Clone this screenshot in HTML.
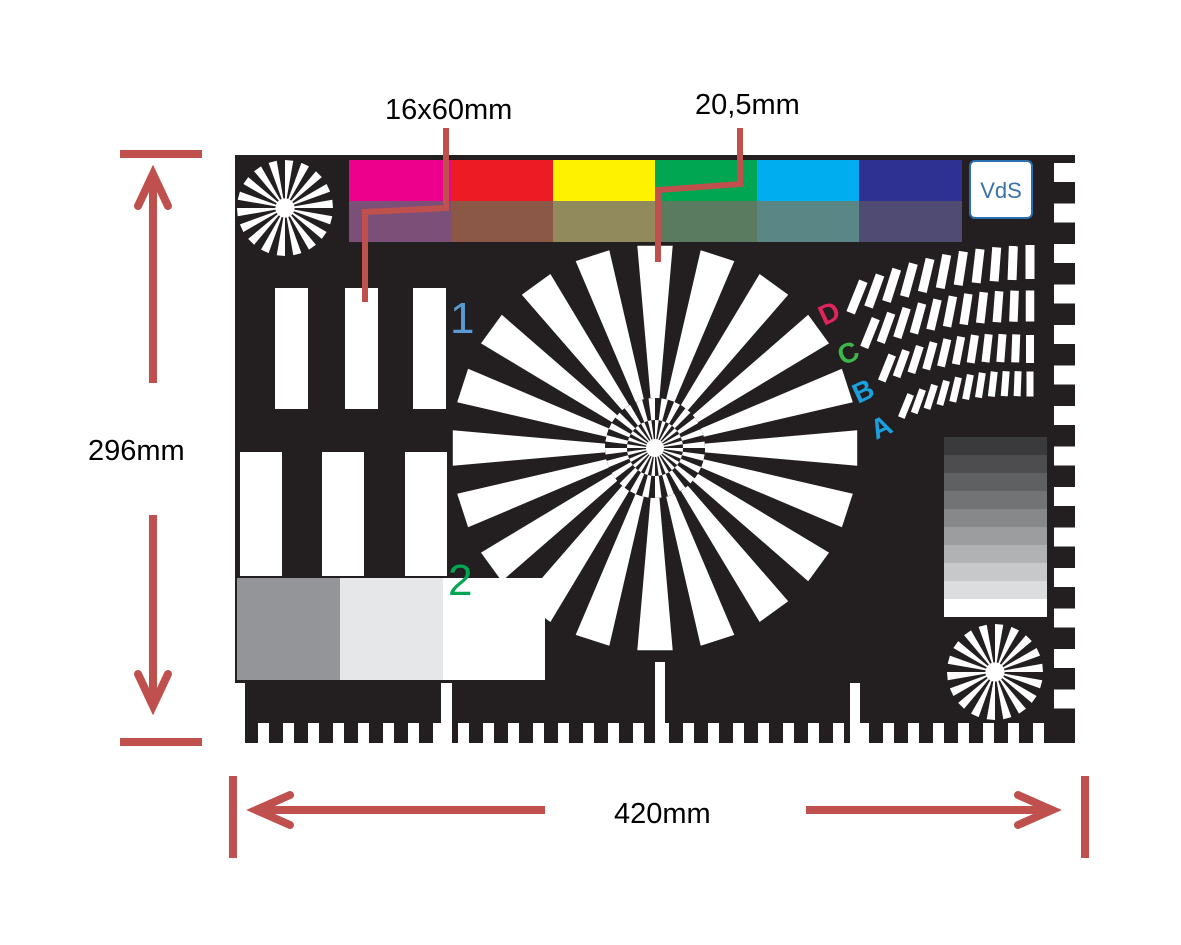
<!DOCTYPE html>
<html><head><meta charset="utf-8">
<style>
html,body{margin:0;padding:0;background:#fff;width:1181px;height:945px;overflow:hidden}
svg{display:block}
text{font-family:"Liberation Sans",sans-serif}
</style></head>
<body>
<svg id="s" width="1181" height="945" viewBox="0 0 1181 945" xmlns="http://www.w3.org/2000/svg">
<rect x="0" y="0" width="1181" height="945" fill="#fff"/>
<rect x="235" y="155" width="840" height="588" fill="#231f20"/>
<g id="g"></g>
<rect x="349" y="160" width="102" height="41" fill="#ec008c"/>
<rect x="451" y="160" width="102" height="41" fill="#ed1c24"/>
<rect x="553" y="160" width="102" height="41" fill="#fff200"/>
<rect x="655" y="160" width="102" height="41" fill="#00a651"/>
<rect x="757" y="160" width="102" height="41" fill="#00aeef"/>
<rect x="859" y="160" width="103" height="41" fill="#2e3192"/>
<rect x="349" y="201" width="102" height="41" fill="#7b4f78"/>
<rect x="451" y="201" width="102" height="41" fill="#8b5848"/>
<rect x="553" y="201" width="102" height="41" fill="#908a5c"/>
<rect x="655" y="201" width="102" height="41" fill="#5b7b60"/>
<rect x="757" y="201" width="102" height="41" fill="#5b8686"/>
<rect x="859" y="201" width="103" height="41" fill="#4f4b73"/>
<rect x="970" y="161" width="62" height="57" rx="5" fill="#fff" stroke="#2a6fb0" stroke-width="2"/>
<text x="1001" y="198" font-size="22" fill="#3a72a8" text-anchor="middle">VdS</text>
<rect x="275" y="288" width="33" height="121" fill="#fff"/>
<rect x="345" y="288" width="33" height="121" fill="#fff"/>
<rect x="413" y="288" width="33" height="121" fill="#fff"/>
<rect x="240" y="452" width="42" height="124" fill="#fff"/>
<rect x="322" y="452" width="42" height="124" fill="#fff"/>
<rect x="405" y="452" width="42" height="124" fill="#fff"/>
<g id="big"></g>
<rect x="237" y="578" width="103" height="102" fill="#939598"/>
<rect x="340" y="578" width="103" height="102" fill="#e6e7e8"/>
<rect x="443" y="578" width="102" height="102" fill="#fff"/>
<text x="448" y="595" font-size="44" fill="#00a651">2</text>
<text x="450" y="333" font-size="44" fill="#5b9bd5">1</text>
<g id="gs"></g>
<g id="rul" fill="#fff"></g>
<rect x="235" y="683" width="10" height="60" fill="#fff"/>
<rect x="441" y="683" width="11" height="60" fill="#fff"/>
<rect x="655" y="662" width="10" height="81" fill="#fff"/>
<rect x="850" y="683" width="10" height="60" fill="#fff"/>
<g id="arcs" fill="#fff"></g>
<g font-weight="bold" font-size="28" font-family="DejaVu Sans, sans-serif">
<text x="0" y="0" fill="#e0245e" transform="translate(824,326) rotate(-25)">D</text>
<text x="0" y="0" fill="#3cb84a" transform="translate(843,366) rotate(-25)">C</text>
<text x="0" y="0" fill="#1aa0dc" transform="translate(858,404) rotate(-25)">B</text>
<text x="0" y="0" fill="#1aa0dc" transform="translate(876,440) rotate(-25)">A</text>
</g>
<g stroke="#c0504d" stroke-width="6" fill="none" stroke-linejoin="miter">
<polyline points="446,128 446,208 365,212 365,302"/>
<polyline points="740,128 740,184 658,190 658,262"/>
<line x1="120" y1="154" x2="202" y2="154" stroke-width="8"/>
<line x1="120" y1="742" x2="202" y2="742" stroke-width="8"/>
<line x1="153" y1="176" x2="153" y2="383" stroke-width="8"/>
<polyline points="138,206 153,174 168,206" stroke-width="8" stroke-linecap="round"/>
<line x1="153" y1="515" x2="153" y2="704" stroke-width="8"/>
<polyline points="138,674 153,706 168,674" stroke-width="8" stroke-linecap="round"/>
<line x1="233" y1="776" x2="233" y2="858" stroke-width="8"/>
<line x1="1085" y1="776" x2="1085" y2="858" stroke-width="8"/>
<line x1="258" y1="810" x2="545" y2="810" stroke-width="8"/>
<polyline points="290,795 256,810 290,825" stroke-width="8" stroke-linecap="round"/>
<line x1="806" y1="810" x2="1050" y2="810" stroke-width="8"/>
<polyline points="1018,795 1052,810 1018,825" stroke-width="8" stroke-linecap="round"/>
</g>
<text x="385" y="119" font-size="29" fill="#000">16x60mm</text>
<text x="695" y="114" font-size="29" fill="#000">20,5mm</text>
<text x="88" y="460" font-size="29" fill="#000">296mm</text>
<text x="614" y="823" font-size="29" fill="#000">420mm</text>
</svg>
<script>
var NS="http://www.w3.org/2000/svg";
function el(p,t,a){var e=document.createElementNS(NS,t);for(var k in a)e.setAttribute(k,a[k]);p.appendChild(e);return e;}
var g=document.getElementById("g"),big=document.getElementById("big");
function wedge(p,cx,cy,r0,r1,a0,a1,fill){
 var r=Math.PI/180;
 var pts=[[cx+r0*Math.cos(a0*r),cy-r0*Math.sin(a0*r)],[cx+r1*Math.cos(a0*r),cy-r1*Math.sin(a0*r)],[cx+r1*Math.cos(a1*r),cy-r1*Math.sin(a1*r)],[cx+r0*Math.cos(a1*r),cy-r0*Math.sin(a1*r)]];
 el(p,"polygon",{points:pts.map(function(q){return q[0].toFixed(1)+","+q[1].toFixed(1)}).join(" "),fill:fill});
}
function star(cx,cy,R,n){
 var p=el(g,"g",{});
 for(var i=0;i<n;i++){var a=i*360/n;wedge(p,cx,cy,0,R,a,a+180/n,"#fff");}
 el(p,"circle",{cx:cx,cy:cy,r:R*0.2,fill:"#fff"});
}
star(285,208,48,18);
star(995,672,48,18);
var cx=655,cy=448;
for(var i=0;i<20;i++){var a=90+i*18;wedge(big,cx,cy,50,203,a-5,a+5,"#fff");}
el(big,"circle",{cx:cx,cy:cy,r:50,fill:"#231f20"});
for(var i=0;i<24;i++){var a=i*15;wedge(big,cx,cy,28,50,a,a+7.5,"#fff");wedge(big,cx,cy,8,28,a+7.5,a+15,"#fff");}
el(big,"circle",{cx:cx,cy:cy,r:9,fill:"#fff"});
var gs=document.getElementById("gs");
var shades=["#3a3a3c","#4d4d4f","#5f6062","#727375","#87888a","#9c9d9f","#b1b2b4","#c7c8ca","#dcdddf","#fff"];
for(var i=0;i<10;i++){el(gs,"rect",{x:944,y:437+i*18,width:103,height:i==9?18:19,fill:shades[i]});}
var rul=document.getElementById("rul");
for(var x=258;x<1045;x+=25){el(rul,"rect",{x:x,y:723,width:11,height:20});}
for(var k=0;k<14;k++){el(rul,"rect",{x:1054,y:163+k*40.5,width:21,height:19});}
var arcs=document.getElementById("arcs");
var rows=[[857,297,1030,262,34,9,11],[870,333,1030,306,31,8.5,11],[887,368,1030,349,28,8,11],[906,406,1030,384,25,7,11]];
rows.forEach(function(r){
 var n=r[6];
 for(var i=0;i<n;i++){var t=i/(n-1);
  var x=r[0]+(r[2]-r[0])*t;
  var y=r[1]+(r[3]-r[1])*t - 8*Math.sin(Math.PI*t);
  var ang=22*(1-t);
  el(arcs,"rect",{x:-r[5]/2,y:-r[4]/2,width:r[5],height:r[4],transform:"translate("+x.toFixed(1)+","+y.toFixed(1)+") rotate("+ang.toFixed(1)+")"});
 }
});
</script>
</body></html>
